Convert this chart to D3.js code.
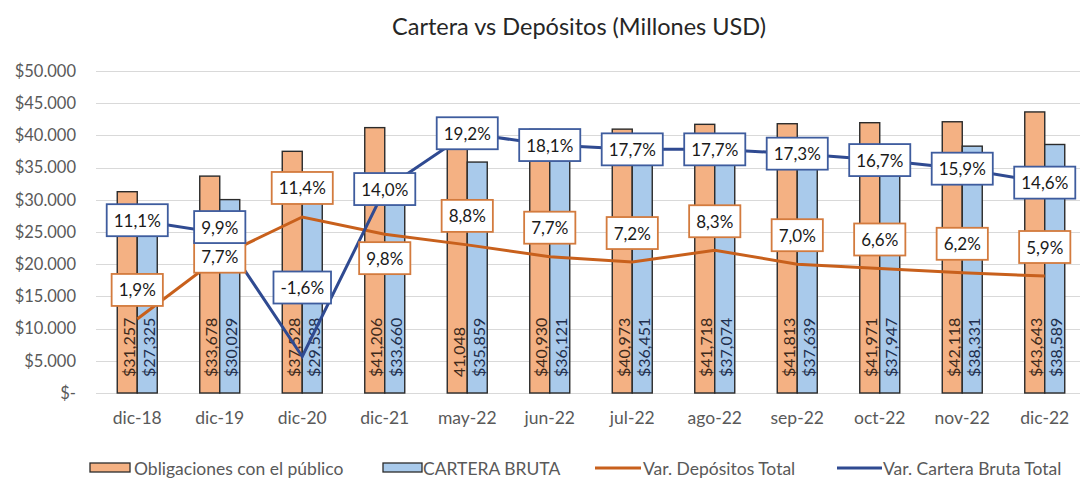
<!DOCTYPE html>
<html>
<head>
<meta charset="utf-8">
<script src="https://cdn.jsdelivr.net/npm/d3@7"></script>
<style>
  body { margin: 0; background: #fff; }
  text { font-family: Lato, "Open Sans", sans-serif; }
</style>
</head>
<body>
<div id="chart"></div>
<script>
// Chart data
var categories = ["dic-18", "dic-19", "dic-20", "dic-21", "may-22", "jun-22",
  "jul-22", "ago-22", "sep-22", "oct-22", "nov-22", "dic-22"];
var obligaciones = [31257, 33678, 37528, 41206, 41048, 40930, 40973, 41718, 41813, 41971, 42118, 43643];
var cartera = [27325, 30029, 29538, 33660, 35859, 36121, 36451, 37074, 37639, 37947, 38331, 38589];
var varDepositos = [1.9, 7.7, 11.4, 9.8, 8.8, 7.7, 7.2, 8.3, 7.0, 6.6, 6.2, 5.9];
var varCartera = [11.1, 9.9, -1.6, 14.0, 19.2, 18.1, 17.7, 17.7, 17.3, 16.7, 15.9, 14.6];
var yTicks = [0, 5000, 10000, 15000, 20000, 25000, 30000, 35000, 40000, 45000, 50000];
// where each percentage label sits relative to its point
var depLabelPos = ["up", "c", "up", "down", "up", "up", "up", "up", "up", "up", "up", "up"];
var carLabelPos = ["c", "nudge", "high", "c", "c", "c", "c", "c", "c", "c", "c", "c"];

var svgWidth = 1080;
var svgHeight = 480;

var colors = {
  depFill: "#F4B183",
  carFill: "#A9CAEB",
  depLine: "#C8601C",
  carLine: "#2F4A91",
  grid: "#D9D9D9",
  axisText: "#595959"
};

var svg = d3.select("#chart")
  .append("svg")
  .attr("width", svgWidth)
  .attr("height", svgHeight);

// scales
var x = d3.scaleBand().domain(categories).range([96, 1086]).padding(0);
var y = d3.scaleLinear().domain([0, 50000]).range([393, 71]);
var y2 = d3.scaleLinear().domain([-5, 25]).range([393, 71]);
var barW = 20;
var cx = function(c) { return x(c) + x.bandwidth() / 2; };

// title
svg.append("text")
  .attr("x", 579)
  .attr("y", 26)
  .attr("text-anchor", "middle")
  .attr("dominant-baseline", "central")
  .style("font-size", "23.5px")
  .style("fill", "#262626")
  .text("Cartera vs Depósitos (Millones USD)");

// gridlines
svg.append("g")
  .selectAll("line")
  .data(yTicks)
  .enter()
  .append("line")
  .attr("x1", 96)
  .attr("x2", svgWidth)
  .attr("y1", d => Math.round(y(d)) + 0.5)
  .attr("y2", d => Math.round(y(d)) + 0.5)
  .attr("stroke", colors.grid)
  .attr("stroke-width", 1);

// left axis labels
var fmtAxis = d3.formatLocale({ decimal: ",", thousands: ".", grouping: [3], currency: ["$", ""] }).format("$,.0f");
var yAxis = d3.axisLeft(y).tickValues(yTicks).tickSize(0).tickPadding(0)
  .tickFormat(d => d === 0 ? "$-" : fmtAxis(d));
var yAxisG = svg.append("g")
  .attr("transform", "translate(76,0)")
  .call(yAxis);
yAxisG.select(".domain").remove();
yAxisG.selectAll("text")
  .style("font-family", "Lato, sans-serif")
  .style("font-size", "16.5px")
  .style("fill", colors.axisText);

// bottom axis labels
var xAxis = d3.axisBottom(x).tickSize(0).tickPadding(0);
var xAxisG = svg.append("g")
  .attr("transform", "translate(0,412)")
  .call(xAxis);
xAxisG.select(".domain").remove();
xAxisG.selectAll("text")
  .style("font-family", "Lato, sans-serif")
  .style("font-size", "17.5px")
  .style("fill", colors.axisText);

// bars
var barsG = svg.append("g");
barsG.selectAll(".bar-dep")
  .data(obligaciones)
  .enter()
  .append("rect")
  .attr("class", "bar-dep")
  .attr("x", (d, i) => cx(categories[i]) - barW)
  .attr("y", d => y(d))
  .attr("width", barW)
  .attr("height", d => y(0) - y(d))
  .attr("fill", colors.depFill)
  .attr("stroke", "#2b2b2b")
  .attr("stroke-width", 1.4);

barsG.selectAll(".bar-car")
  .data(cartera)
  .enter()
  .append("rect")
  .attr("class", "bar-car")
  .attr("x", (d, i) => cx(categories[i]))
  .attr("y", d => y(d))
  .attr("width", barW)
  .attr("height", d => y(0) - y(d))
  .attr("fill", colors.carFill)
  .attr("stroke", "#2b2b2b")
  .attr("stroke-width", 1.4);

// rotated value labels inside the bars
var fmtVal = d3.format(",");
barsG.selectAll(".lbl-dep")
  .data(obligaciones)
  .enter()
  .append("text")
  .attr("transform", (d, i) => `translate(${cx(categories[i]) - barW / 2 + 1},377) rotate(-90)`)
  .attr("dominant-baseline", "central")
  .style("font-size", "16px")
  .style("fill", "#3d2a1c")
  .text((d, i) => (categories[i] === "may-22" ? "" : "$") + fmtVal(d));

barsG.selectAll(".lbl-car")
  .data(cartera)
  .enter()
  .append("text")
  .attr("transform", (d, i) => `translate(${cx(categories[i]) + barW / 2 + 1},377) rotate(-90)`)
  .attr("dominant-baseline", "central")
  .style("font-size", "16px")
  .style("fill", "#1f2f4d")
  .text(d => "$" + fmtVal(d));

// lines on the hidden secondary axis
var line = d3.line()
  .x((d, i) => cx(categories[i]))
  .y(d => y2(d));

svg.append("path")
  .datum(varDepositos)
  .attr("d", line)
  .attr("fill", "none")
  .attr("stroke", colors.depLine)
  .attr("stroke-width", 3);

svg.append("path")
  .datum(varCartera)
  .attr("d", line)
  .attr("fill", "none")
  .attr("stroke", colors.carLine)
  .attr("stroke-width", 3);

// percentage labels in boxes
var offsets = { c: 0, nudge: -6, up: -29, down: 24, high: -69 };
var fmtPct = d => d.toFixed(1).replace(".", ",") + "%";

function drawLabels(values, positions, border) {
  var g = svg.append("g");
  values.forEach(function(v, i) {
    var px = cx(categories[i]);
    var py = y2(v) + offsets[positions[i]];
    var lg = g.append("g").attr("transform", `translate(${px},${py})`);
    var rect = lg.append("rect");
    var t = lg.append("text")
      .attr("text-anchor", "middle")
      .attr("dominant-baseline", "central")
      .style("font-size", "17px")
      .style("fill", "#1a1a1a")
      .text(fmtPct(v));
    var w = t.node().getComputedTextLength() + 14;
    var h = 32;
    rect.attr("x", -w / 2)
      .attr("y", -h / 2)
      .attr("width", w)
      .attr("height", h)
      .attr("fill", "#fff")
      .attr("stroke", border)
      .attr("stroke-width", 1.8);
  });
}
drawLabels(varDepositos, depLabelPos, "#D37B3E");
drawLabels(varCartera, carLabelPos, "#3E5C9E");

// legend
var legend = svg.append("g");
legend.append("rect").attr("x", 90).attr("y", 463).attr("width", 40).attr("height", 9)
  .attr("fill", colors.depFill).attr("stroke", "#2b2b2b").attr("stroke-width", 1.3);
legend.append("rect").attr("x", 383).attr("y", 463).attr("width", 39).attr("height", 9)
  .attr("fill", colors.carFill).attr("stroke", "#2b2b2b").attr("stroke-width", 1.3);
legend.append("line").attr("x1", 595).attr("x2", 641).attr("y1", 468).attr("y2", 468)
  .attr("stroke", colors.depLine).attr("stroke-width", 3);
legend.append("line").attr("x1", 837).attr("x2", 882).attr("y1", 468).attr("y2", 468)
  .attr("stroke", colors.carLine).attr("stroke-width", 3);

var legendItems = [
  { x: 134, text: "Obligaciones con el público" },
  { x: 423, text: "CARTERA BRUTA" },
  { x: 643, text: "Var. Depósitos Total" },
  { x: 883, text: "Var. Cartera Bruta Total" }
];
legend.selectAll("text")
  .data(legendItems)
  .enter()
  .append("text")
  .attr("x", d => d.x)
  .attr("y", 468)
  .attr("dominant-baseline", "central")
  .style("font-size", "17.5px")
  .style("fill", colors.axisText)
  .text(d => d.text);
</script>
</body>
</html>
